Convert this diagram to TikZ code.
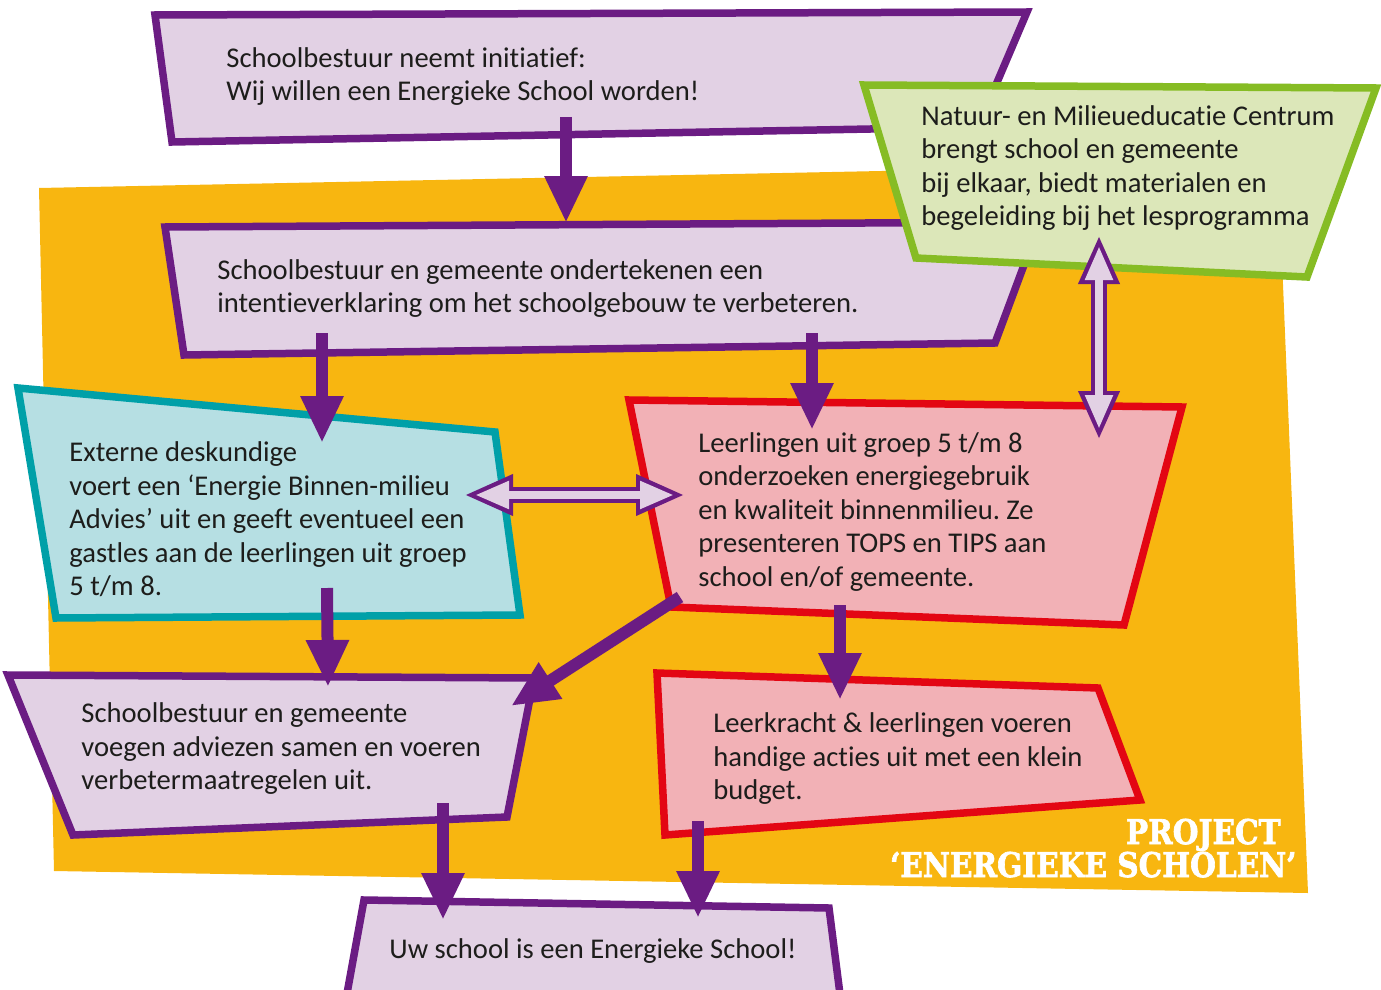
\documentclass[tikz,border=0pt]{standalone}
\usepackage{fontspec}
\setmainfont{Carlito}[Ligatures=NoCommon]
\newfontfamily\titelfont{DejaVu Serif}[BoldFeatures={FakeBold=2}]
\usetikzlibrary{arrows.meta}
\definecolor{paars}{RGB}{107,28,131}
\definecolor{lila}{RGB}{226,209,228}
\definecolor{oranje}{RGB}{248,182,16}
\definecolor{groen}{RGB}{134,188,36}
\definecolor{lichtgroen}{RGB}{220,231,185}
\definecolor{blauwgroen}{RGB}{0,160,168}
\definecolor{lichtblauw}{RGB}{182,223,227}
\definecolor{rood}{RGB}{227,6,19}
\definecolor{roze}{RGB}{242,177,182}
\definecolor{inkt}{RGB}{29,29,27}
\frenchspacing
\tikzset{
  vak/.style={line width=3.75pt, line join=miter, miter limit=10},
  tekst/.style={font=\fontsize{14.3}{16.75}\selectfont, text=inkt, align=left, inner sep=0pt, anchor=north west, execute at begin node=\strut},
  titel/.style={font=\titelfont\bfseries\fontsize{17}{20}\selectfont, text=white, inner sep=0pt, anchor=base east},
  pijl/.style={paars, line width=6pt, -{Triangle[width=20pt,length=23.5pt]}},
  dubbel/.style={paars, line width=8pt, {Triangle[width=19pt,length=24.5pt]}-{Triangle[width=19pt,length=24.5pt]}},
  dubbelbinnen/.style={lila, line width=4pt, {Triangle[width=13pt,length=17pt]}-{Triangle[width=13pt,length=17pt]}, shorten <=5.5pt, shorten >=5.5pt},
}
\begin{document}
\begin{tikzpicture}[x=0.5pt,y=-0.5pt]
  \useasboundingbox (0,0) rectangle (1381,990);
  \clip (0,0) rectangle (1381,990);
  \fill[oranje] (39,188) -- (1278,163) -- (1308,893) -- (54,871) -- cycle;%achtergrond

  \draw[vak, paars, fill=lila] (155,15) -- (1027,12) -- (978,127) -- (172,142) -- cycle;
  \draw[vak, paars, fill=lila] (165,227) -- (1040,222) -- (995,343) -- (184,355) -- cycle;
  \draw[vak, groen, fill=lichtgroen] (864,85) -- (1376,88) -- (1307,277) -- (916,258) -- cycle;
  \draw[vak, blauwgroen, fill=lichtblauw] (18,388) -- (495,432) -- (520,615) -- (56,618) -- cycle;
  \draw[vak, rood, fill=roze] (629,400) -- (1182,407) -- (1124,625) -- (671,607) -- cycle;
  \draw[vak, paars, fill=lila] (8,675) -- (534,678) -- (507,817) -- (73,835) -- cycle;
  \draw[vak, rood, fill=roze] (657,673) -- (1098,688) -- (1140,800) -- (665,835) -- cycle;
  \draw[vak, paars, fill=lila] (364,900) -- (829,908) -- (842,1010) -- (344,1010) -- cycle;

  \node[tekst] (initiatief) at (226,47) {Schoolbestuur neemt initiatief:\\Wij willen een Energieke School worden!};
  \node[tekst] (intentie) at (217,259) {Schoolbestuur en gemeente ondertekenen een\\intentieverklaring om het schoolgebouw te verbeteren.};
  \node[tekst] (centrum) at (921,105) {Natuur- en Milieueducatie Centrum\\brengt school en gemeente\\bij elkaar, biedt materialen en\\begeleiding bij het lesprogramma};
  \node[tekst] (advies) at (69,441.5) {Externe deskundige\\voert een ‘Energie Binnen-milieu\\Advies’ uit en geeft eventueel een\\gastles aan de leerlingen uit groep\\5 t/m 8.};
  \node[tekst] (onderzoek) at (698,432) {Leerlingen uit groep 5 t/m 8\\onderzoeken energiegebruik\\en kwaliteit binnenmilieu. Ze\\presenteren TOPS en TIPS aan\\school en/of gemeente.};
  \node[tekst] (maatregelen) at (81,702.5) {Schoolbestuur en gemeente\\voegen adviezen samen en voeren\\verbetermaatregelen uit.};
  \node[tekst] (acties) at (713,712.5) {Leerkracht \& leerlingen voeren\\handige acties uit met een klein\\budget.};
  \node[tekst] (resultaat) at (389,935) {Uw school is een Energieke School!};

  \node[titel] (project) at (1281,844) {\scalebox{0.87}[1]{PROJECT}};
  \node[titel] (naam) at (1297,877) {\scalebox{0.87}[1]{‘ENERGIEKE SCHOLEN’}};

  % pijlen
  \coordinate (p1a) at (566,117);  \coordinate (p1b) at (566,223);
  \coordinate (p2a) at (322,333);  \coordinate (p2b) at (322,443);
  \coordinate (p3a) at (812,333);  \coordinate (p3b) at (812,430);
  \coordinate (p4a) at (327,588);  \coordinate (p4b) at (328,687);
  \coordinate (p5a) at (680,597);  \coordinate (p5b) at (511,706);
  \coordinate (p6a) at (840,605);  \coordinate (p6b) at (840,700);
  \coordinate (p7a) at (443,803);  \coordinate (p7b) at (443,920);
  \coordinate (p8a) at (698,821);  \coordinate (p8b) at (698,918);
  \foreach \p in {1,...,8} \draw[pijl] (p\p a) -- (p\p b);

  \coordinate (d1a) at (464,495);  \coordinate (d1b) at (685,495);
  \coordinate (d2a) at (1099,235); \coordinate (d2b) at (1099,440);
  \foreach \d in {1,2} {
    \draw[dubbel] (d\d a) -- (d\d b);
    \draw[dubbelbinnen] (d\d a) -- (d\d b);
  }
\end{tikzpicture}
\end{document}
